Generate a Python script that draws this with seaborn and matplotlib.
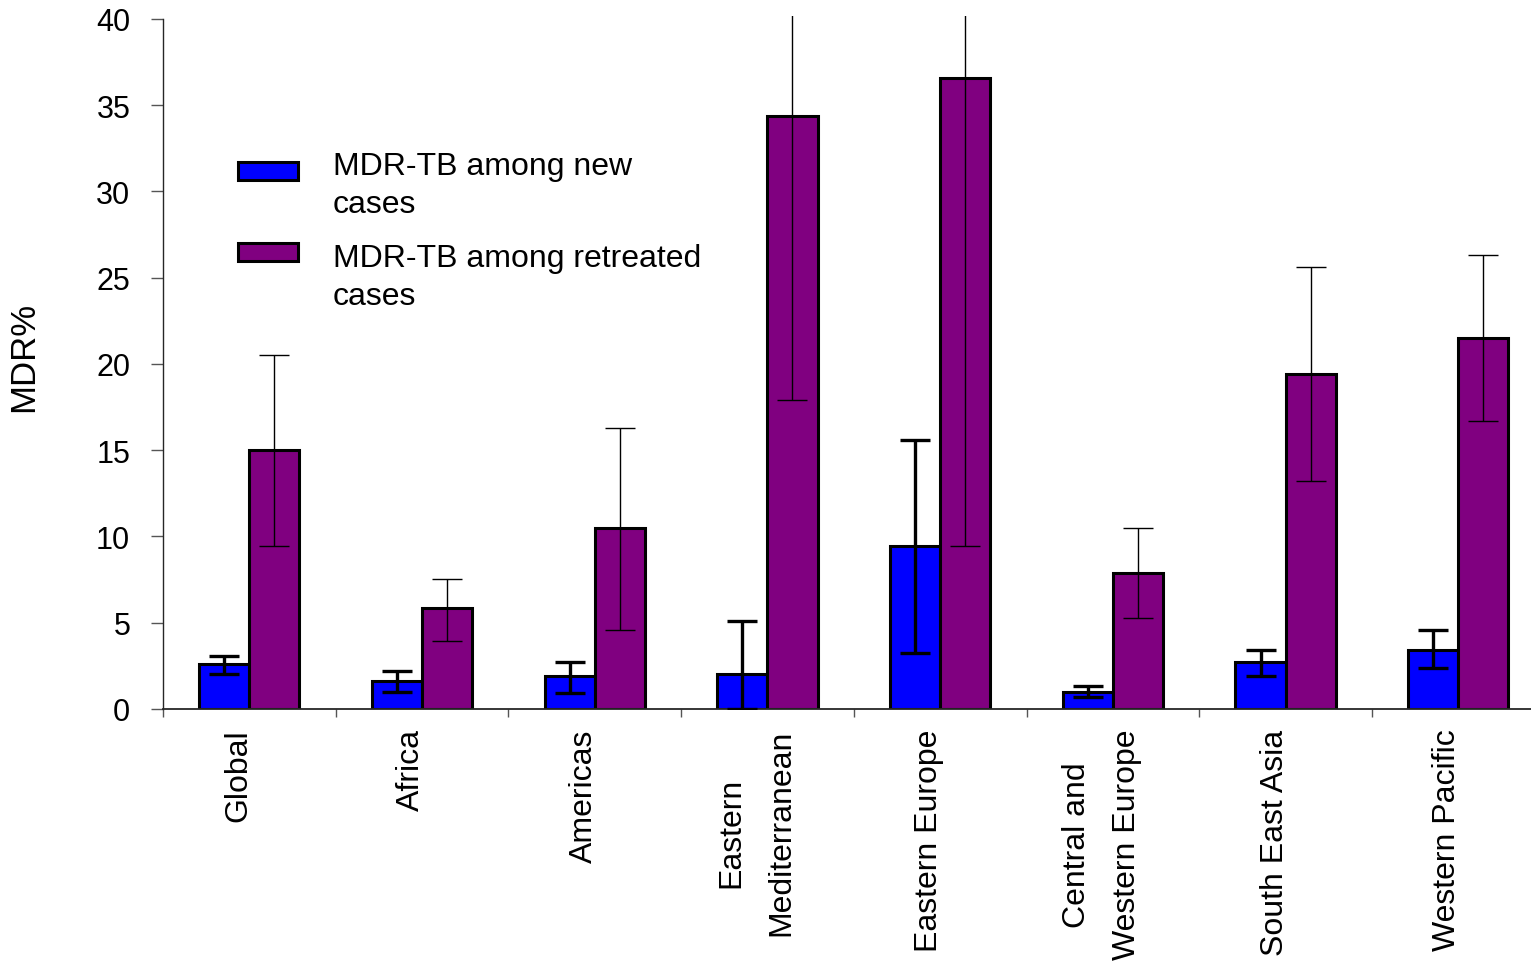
import matplotlib
matplotlib.use("Agg")
import matplotlib.pyplot as plt
import matplotlib.transforms as mtransforms
import pandas as pd
import seaborn as sns

regions = ["Global", "Africa", "Americas", "Eastern\nMediterranean", "Eastern Europe",
           "Central and\nWestern Europe", "South East Asia", "Western Pacific"]
series = ["MDR-TB among new\ncases", "MDR-TB among retreated\ncases"]

new_cases = [2.6, 1.6, 1.9, 2.05, 9.45, 1.0, 2.75, 3.4]
new_low = [2.05, 1.0, 0.9, 0.0, 3.25, 0.7, 1.9, 2.4]
new_high = [3.1, 2.2, 2.7, 5.1, 15.6, 1.35, 3.4, 4.6]

retreated = [15.0, 5.85, 10.5, 34.4, 36.6, 7.9, 19.4, 21.5]
ret_low = [9.45, 3.95, 4.6, 17.9, 9.45, 5.3, 13.2, 16.7]
ret_high = [20.5, 7.55, 16.3, 45.0, 45.0, 10.5, 25.6, 26.3]


def main():
    sns.set_theme(style="ticks")
    plt.rcParams["font.family"] = ["Liberation Sans", "DejaVu Sans"]
    plt.rcParams["text.color"] = "black"
    plt.rcParams["axes.labelcolor"] = "black"
    plt.rcParams["xtick.labelcolor"] = "black"
    plt.rcParams["ytick.labelcolor"] = "black"

    df = pd.DataFrame({
        "region": regions * 2,
        "series": [series[0]] * len(regions) + [series[1]] * len(regions),
        "mdr": new_cases + retreated,
    })

    fig = plt.figure(figsize=(15.31, 9.62), dpi=100)
    # axes top a little above the 40 line so the long error bars run just past it
    ax = fig.add_axes([163 / 1531, 252 / 962, 1381.6 / 1531, 693 / 962])

    sns.barplot(data=df, x="region", y="mdr", hue="series", order=regions,
                hue_order=series, palette={series[0]: "#0000ff", series[1]: "#800080"},
                width=0.58, saturation=1, edgecolor="black", linewidth=2.2,
                errorbar=None, legend=False, ax=ax)

    # error bars on the bar centres
    for cont, vals, lo, hi, lw in [(ax.containers[0], new_cases, new_low, new_high, 2.4),
                                   (ax.containers[1], retreated, ret_low, ret_high, 1.0)]:
        xs = [p.get_x() + p.get_width() / 2 for p in cont.patches]
        yerr = [[v - l for v, l in zip(vals, lo)], [h - v for v, h in zip(vals, hi)]]
        ax.errorbar(xs, vals, yerr=yerr, fmt="none", ecolor="black", elinewidth=lw,
                    capsize=11, capthick=lw, zorder=5)

    ax.set_xlim(-0.5, 7.5)
    ax.set_ylim(0, 40.17)
    ax.set_yticks(range(0, 41, 5))
    ax.set_xlabel("")
    ax.set_ylabel("MDR%", fontsize=25)
    ax.yaxis.set_label_coords(-0.089, 0.51)

    sns.despine(ax=ax, right=True, top=True)
    ax.spines["left"].set_bounds(0, 40)
    ax.spines["left"].set_linewidth(1.0)
    ax.spines["bottom"].set_linewidth(1.3)

    ax.tick_params(axis="y", length=8.6, width=1.0, color="#555555", pad=15, labelsize=22)
    ax.set_xticks([i - 0.5 for i in range(9)], minor=True)
    ax.tick_params(axis="x", which="minor", length=5.8, width=1.0, color="#555555")
    ax.tick_params(axis="x", which="major", length=0, pad=14, labelsize=23)
    for lab in ax.get_xticklabels():
        lab.set_rotation(90)
        lab.set_ha("center")
        lab.set_va("top")
        lab.set_linespacing(1.9)
        lab.set_transform(lab.get_transform() +
                          mtransforms.ScaledTranslation(-11 / 100, 0, fig.dpi_scale_trans))

    leg = ax.legend(handles=[ax.containers[0], ax.containers[1]], labels=series,
                    loc="upper left", bbox_to_anchor=(238 / 1531, 1 - 152 / 962),
                    bbox_transform=fig.transFigure, frameon=False, fontsize=23,
                    borderpad=0, borderaxespad=0, handlelength=1.87, handleheight=0.5,
                    handletextpad=1.1, labelspacing=0.75)
    for t in leg.get_texts():
        t.set_linespacing(1.35)
    # put the swatch next to the first line of each label
    for h, dy in zip(leg.legend_handles, [10.0, 18.0]):
        h.set_y(h.get_y() + dy)

    fig.savefig("out.png", dpi=100)
    plt.close(fig)


if __name__ == '__main__':
    main()
